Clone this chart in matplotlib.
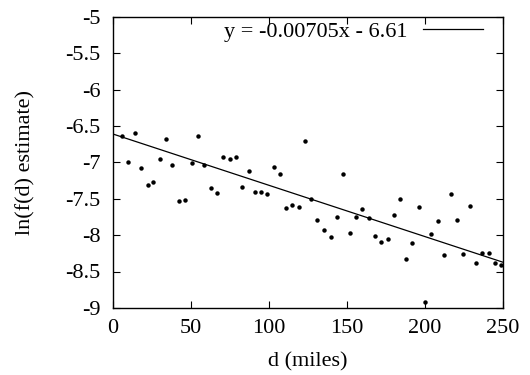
import numpy as np
import matplotlib
matplotlib.use('Agg')
import matplotlib.pyplot as plt

# ===================================数据====================================

d_miles = [6.0, 9.8, 13.9, 17.9, 22.2, 26.0, 30.0, 34.0, 38.0, 42.3,
           46.4, 50.4, 54.5, 58.5, 62.6, 66.7, 70.7, 74.8, 78.8, 82.9,
           87.0, 91.0, 95.0, 99.0, 103.0, 107.0, 111.0, 115.0, 119.0, 123.0,
           127.0, 131.0, 135.5, 139.5, 143.6, 147.6, 151.7, 155.8, 159.8, 164.0,
           168.0, 172.0, 176.0, 180.0, 184.0, 188.0, 192.0, 196.0, 200.0, 204.0,
           208.5, 212.4, 216.5, 220.5, 224.6, 228.6, 232.7, 236.8, 240.8, 244.9,
           249.0]
ln_fd = [-6.64, -6.99, -6.59, -7.08, -7.31, -7.27, -6.95, -6.68, -7.03, -7.53,
         -7.52, -7.01, -6.64, -7.04, -7.35, -7.42, -6.92, -6.96, -6.92, -7.34,
         -7.12, -7.41, -7.41, -7.44, -7.06, -7.16, -7.63, -7.58, -7.62, -6.70,
         -7.51, -7.79, -7.93, -8.03, -7.75, -7.16, -7.97, -7.75, -7.64, -7.76,
         -8.01, -8.09, -8.05, -7.72, -7.50, -8.33, -8.11, -7.61, -8.92, -7.99,
         -7.80, -8.28, -7.44, -7.79, -8.26, -7.60, -8.39, -8.25, -8.25, -8.39,
         -8.41]

slope = -0.00705
intercept = -6.61
fit_x = [0, 250]

xticks = [0, 50, 100, 150, 200, 250]
yticks = [-9, -8.5, -8, -7.5, -7, -6.5, -6, -5.5, -5]
ytick_labels = ['-9', '-8.5', '-8', '-7.5', '-7', '-6.5', '-6', '-5.5', '-5']

# ===================================绘图====================================

plt.rcParams['font.family'] = ['Liberation Serif', 'DejaVu Serif']
plt.rcParams['font.size'] = 16

fig = plt.figure(figsize=(5.3, 3.75), dpi=100)
ax = fig.add_axes([0.213, 0.179, 0.736, 0.776])

fit_y = [slope * x + intercept for x in fit_x]
ax.plot(fit_x, fit_y, color='black', lw=0.9, label='y = -0.00705x - 6.61')
ax.plot(d_miles, ln_fd, 'o', color='black', ms=3.2, mew=0)

ax.set_xlim(0, 250)
ax.set_ylim(-9, -5)
ax.set_xticks(xticks)
ax.set_yticks(yticks)
ax.set_yticklabels(ytick_labels)
ax.tick_params(direction='in', top=True, right=True, length=5, width=0.8)
ax.tick_params(axis='x', pad=8)
ax.tick_params(axis='y', pad=9)
for s in ax.spines.values():
    s.set_linewidth(1.0)

ax.set_xlabel('d (miles)', labelpad=10)
ax.set_ylabel('ln(f(d) estimate)', labelpad=21)

ax.legend(loc='upper right', frameon=False, markerfirst=False,
          handlelength=2.7, handletextpad=0.7, borderaxespad=0, borderpad=0,
          bbox_to_anchor=(0.949, 0.985))

fig.savefig('out.png', dpi=100)
